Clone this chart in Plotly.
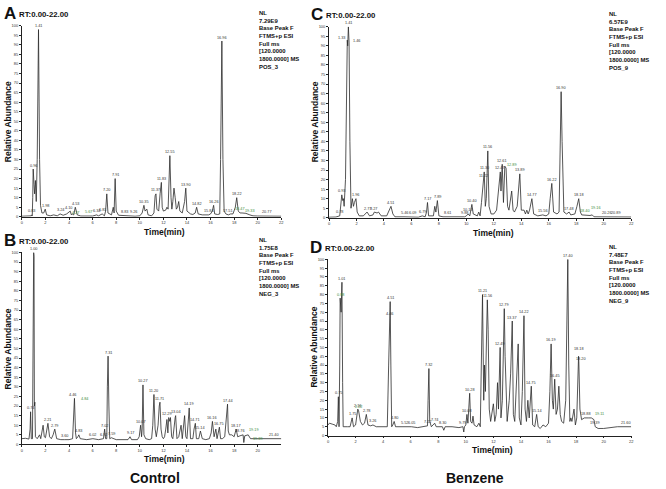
import plotly.graph_objects as go

W, H = 666, 489

# ---------------- Panel A (POS_3, Control) ----------------
A_time = [0, 0.8, 0.83, 0.88, 0.92, 0.96, 1.03, 1.08, 1.15, 1.22, 1.3, 1.41, 1.5, 1.58, 1.7, 1.85, 1.98, 2.1, 2.4, 2.7, 3.0, 3.24, 3.5, 3.8, 4.10, 4.2, 4.27, 4.4, 4.53, 4.7, 5.0, 5.67, 6.0, 6.34, 6.5, 6.81, 7.0, 7.1, 7.20, 7.3, 7.6, 7.75, 7.82, 7.91, 8.0, 8.2, 8.83, 9.26, 9.6, 10.0, 10.2, 10.35, 10.45, 10.6, 10.7, 11.0, 11.2, 11.3, 11.37, 11.45, 11.6, 11.72, 11.83, 11.9, 12.0, 12.2, 12.3, 12.4, 12.45, 12.55, 12.65, 12.72, 12.8, 12.9, 13.0, 13.1, 13.2, 13.3, 13.4, 13.6, 13.8, 13.90, 14.0, 14.3, 14.5, 14.7, 14.82, 14.95, 15.3, 15.84, 16.0, 16.15, 16.26, 16.35, 16.6, 16.78, 16.85, 16.96, 17.05, 17.15, 17.3, 17.51, 17.7, 17.9, 18.1, 18.22, 18.35, 18.5, 18.67, 19.0, 19.33, 19.6, 20.0, 20.77, 21.5, 22]
A_abund = [0.3, 0.5, 1, 0.5, 10, 25, 17, 12, 19, 8, 30, 98, 30, 6, 2, 2, 4, 1, 0.5, 1, 0.5, 1.5, 0.8, 1.5, 3, 1, 1.5, 1, 5, 1, 0.4, 0.5, 0.4, 1, 0.5, 1.5, 0.5, 3, 12, 2, 1, 5, 2, 20, 3, 0.8, 0.5, 0.5, 0.3, 0.5, 2, 6, 3, 4, 1, 0.5, 2, 11, 12, 4, 3, 12, 18, 5, 3, 3.5, 5, 4, 15, 32, 10, 4, 8, 15, 10, 4, 5, 8, 3, 2, 8, 15, 3, 1.5, 1.2, 2, 5, 1.5, 1, 1, 1.5, 3, 6, 1.5, 1.2, 1.5, 30, 92, 30, 3, 1.5, 1, 1.5, 1.5, 5, 10, 3, 2, 2, 1.8, 1, 0.5, 0.4, 0.5, 0.3, 0.3]
A_lbl_rt = [0.83, 0.96, 1.41, 1.98, 3.24, 4.10, 4.27, 4.53, 5.67, 6.34, 6.81, 7.20, 7.91, 8.83, 9.26, 10.35, 11.37, 11.83, 12.55, 13.90, 14.82, 15.84, 16.26, 16.96, 17.51, 18.22, 18.47, 19.33, 20.77]
A_lbl_ab = [1, 25, 98, 4, 1.5, 3, 1.5, 5, 0.5, 1, 1.5, 12, 20, 0.5, 0.5, 6, 12, 18, 32, 15, 5, 1, 6, 92, 1, 10, 2, 1, 0.5]
A_lbl_txt = ["0.83", "0.96", "1.41", "1.98", "3.24", "4.10", "4.27", "4.53", "5.67", "6.34", "6.81", "7.20", "7.91", "8.83", "9.26", "10.35", "11.37", "11.83", "12.55", "13.90", "14.82", "15.84", "16.26", "16.96", "17.51", "18.22", "18.47", "19.33", "20.77"]
A_lbl_green = ["4.27", "5.67", "18.47", "19.33"]

# ---------------- Panel B (NEG_3, Control) ----------------
B_time = [0, 0.3, 0.6, 0.7, 0.74, 0.8, 0.9, 0.95, 0.97, 1.00, 1.03, 1.06, 1.1, 1.15, 1.3, 1.5, 1.6, 1.8, 1.9, 2.0, 2.1, 2.21, 2.35, 2.5, 2.65, 2.79, 2.95, 3.3, 3.60, 4.0, 4.3, 4.4, 4.46, 4.55, 4.62, 4.75, 4.83, 4.95, 5.5, 6.02, 6.5, 6.92, 7.02, 7.1, 7.2, 7.25, 7.31, 7.38, 7.45, 7.59, 8.0, 9.0, 9.17, 9.3, 9.8, 9.95, 10.07, 10.15, 10.2, 10.27, 10.35, 10.5, 10.8, 11.0, 11.1, 11.20, 11.3, 11.4, 11.55, 11.65, 11.71, 11.8, 11.9, 12.0, 12.1, 12.2, 12.3, 12.38, 12.45, 12.55, 12.6, 12.7, 12.8, 13.0, 13.04, 13.15, 13.3, 13.5, 13.6, 13.8, 13.9, 14.0, 14.1, 14.19, 14.3, 14.5, 14.6, 14.71, 14.8, 15.0, 15.14, 15.3, 15.6, 15.9, 16.05, 16.16, 16.3, 16.45, 16.55, 16.75, 16.85, 17.0, 17.2, 17.35, 17.44, 17.5, 17.6, 17.8, 18.0, 18.17, 18.3, 18.5, 18.76, 18.82, 18.9, 19.19, 19.39, 19.6, 20.0, 21.0, 21.40, 22]
B_abund = [3, 3.2, 2.8, 8, 17, 3, 3, 80, 100, 100, 98, 20, 22, 4, 3, 5, 3, 10, 4, 3.5, 8, 11, 4, 3, 5, 8, 3, 2.5, 2.5, 2.5, 3, 15, 24, 6, 3, 4, 5, 3, 2.5, 3, 2.5, 3, 8, 3, 3, 30, 46, 20, 3, 3.5, 2.5, 2.5, 4, 2.5, 2.5, 4, 10, 4, 8, 31, 5, 3, 2.5, 3, 10, 26, 8, 4, 10, 20, 22, 8, 4, 3, 4, 8, 13, 6, 14, 12, 14, 4, 3, 14, 15, 3, 4, 10, 3, 15, 4, 3, 12, 19, 3, 3, 8, 11, 3, 3, 7, 3, 2.5, 3, 6, 12, 4, 8, 3, 9, 3, 3, 4, 14, 21, 7, 5, 5, 4, 8, 4, 4.5, 5, 1, 4.5, 5, 3, 3, 3, 3, 3, 3]
B_lbl_rt = [0.74, 1.00, 2.21, 2.79, 3.60, 4.46, 4.84, 4.83, 6.02, 6.92, 7.02, 7.31, 7.59, 9.17, 10.07, 10.27, 11.20, 11.71, 12.29, 13.04, 14.19, 14.71, 15.14, 16.16, 16.75, 17.44, 18.17, 18.76, 19.19, 19.39, 21.40]
B_lbl_ab = [17, 100, 11, 8, 2.5, 24, 23, 5, 3, 3, 8, 46, 3.5, 4, 10, 31, 26, 22, 14, 15, 19, 11, 7, 12, 9, 21, 8, 5, 5, 3, 3]
B_lbl_txt = ["0.74", "1.00", "2.21", "2.79", "3.60", "4.46", "4.84", "4.83", "6.02", "6.92", "7.02", "7.31", "7.59", "9.17", "10.07", "10.27", "11.20", "11.71", "12.29", "13.04", "14.19", "14.71", "15.14", "16.16", "16.75", "17.44", "18.17", "18.76", "19.19", "19.39", "21.40"]
B_lbl_green = ["4.84", "19.19", "19.39"]

# ---------------- Panel C (POS_9, Benzene) ----------------
C_time = [0, 0.5, 0.78, 0.85, 0.93, 1.0, 1.05, 1.1, 1.2, 1.33, 1.36, 1.41, 1.44, 1.46, 1.52, 1.6, 1.7, 1.78, 1.85, 1.96, 2.05, 2.2, 2.5, 2.77, 2.95, 3.2, 3.3, 3.5, 3.6, 3.8, 4.2, 4.4, 4.51, 4.65, 4.8, 5.46, 6.09, 6.5, 6.79, 7.0, 7.1, 7.17, 7.25, 7.6, 7.7, 7.78, 7.89, 8.0, 8.3, 8.61, 9.0, 9.88, 10.0, 10.13, 10.25, 10.35, 10.40, 10.5, 10.8, 10.9, 11.0, 11.1, 11.22, 11.30, 11.38, 11.45, 11.56, 11.65, 11.8, 12.0, 12.2, 12.3, 12.47, 12.52, 12.61, 12.7, 12.8, 12.89, 13.0, 13.1, 13.3, 13.4, 13.5, 13.7, 13.89, 14.0, 14.2, 14.3, 14.4, 14.5, 14.6, 14.77, 14.9, 15.2, 15.56, 15.8, 16.0, 16.1, 16.22, 16.35, 16.6, 16.75, 16.83, 16.90, 16.97, 17.1, 17.3, 17.48, 17.6, 17.9, 18.05, 18.18, 18.3, 18.40, 19.0, 19.16, 19.3, 20.26, 20.89, 22]
C_abund = [0.3, 0.4, 1, 5, 12, 9, 10, 6, 20, 93, 90, 100, 95, 92, 40, 5, 10, 6, 8, 10, 3, 1, 1, 3, 1, 1.5, 3, 2.5, 3, 1, 1, 4, 6, 2, 0.5, 0.5, 0.5, 0.3, 1, 0.5, 3, 8, 1, 1, 6, 3, 9, 1, 0.5, 0.5, 0.4, 0.5, 1, 2, 1, 4, 7, 2, 1, 3, 1, 8, 20, 24, 6, 10, 35, 6, 2, 2, 4, 12, 24, 14, 28, 8, 27, 26, 6, 4, 14, 4, 3, 6, 23, 4, 4, 2, 4, 2, 4, 10, 2, 1, 1.5, 1, 2, 10, 18, 3, 2, 3, 40, 66, 40, 3, 2, 3, 1.5, 2, 6, 10, 3, 1.5, 1.2, 1.5, 0.5, 0.5, 0.5, 0.4]
C_lbl_rt = [0.78, 0.93, 1.33, 1.41, 1.46, 1.96, 2.77, 3.27, 4.51, 5.46, 6.09, 6.79, 7.17, 7.89, 8.61, 9.88, 10.13, 10.40, 11.22, 11.30, 11.56, 12.47, 12.61, 12.89, 13.89, 14.77, 15.56, 16.22, 16.90, 17.48, 18.18, 18.40, 19.16, 20.26, 20.89]
C_lbl_ab = [1, 12, 93, 100, 92, 10, 3, 3, 6, 0.5, 0.5, 1, 8, 9, 0.5, 0.5, 2, 7, 20, 24, 35, 24, 28, 26, 23, 10, 1.5, 18, 66, 3, 10, 1.5, 1.5, 0.5, 0.5]
C_lbl_txt = ["0.78", "0.93", "1.33", "1.41", "1.46", "1.96", "2.77", "3.27", "4.51", "5.46", "6.09", "6.79", "7.17", "7.89", "8.61", "9.88", "10.13", "10.40", "11.22", "11.30", "11.56", "12.47", "12.61", "12.89", "13.89", "14.77", "15.56", "16.22", "16.90", "17.48", "18.18", "18.40", "19.16", "20.26", "20.89"]
C_lbl_green = ["12.89", "18.40", "19.16"]

# ---------------- Panel D (NEG_9, Benzene) ----------------
D_time = [0, 0.1, 0.3, 0.5, 0.6, 0.7, 0.75, 0.8, 0.85, 0.88, 0.95, 1.01, 1.06, 1.1, 1.4, 1.6, 1.75, 1.85, 2.0, 2.16, 2.22, 2.35, 2.5, 2.65, 2.78, 2.9, 3.1, 3.26, 3.5, 4.0, 4.3, 4.4, 4.46, 4.51, 4.56, 4.62, 4.7, 4.80, 4.9, 5.52, 6.05, 6.5, 7.0, 7.22, 7.26, 7.32, 7.38, 7.5, 7.74, 7.85, 8.30, 8.4, 8.5, 9.0, 9.5, 9.79, 9.85, 9.9, 10.0, 10.08, 10.15, 10.22, 10.28, 10.35, 10.45, 10.52, 10.6, 10.8, 10.95, 11.05, 11.15, 11.21, 11.3, 11.35, 11.42, 11.5, 11.56, 11.62, 11.7, 11.8, 11.9, 12.0, 12.1, 12.2, 12.3, 12.37, 12.49, 12.55, 12.65, 12.72, 12.79, 12.85, 12.95, 13.0, 13.15, 13.25, 13.37, 13.45, 13.55, 13.7, 13.8, 13.88, 14.0, 14.1, 14.22, 14.3, 14.4, 14.5, 14.6, 14.75, 14.85, 15.0, 15.14, 15.25, 15.4, 15.6, 15.8, 16.0, 16.1, 16.19, 16.28, 16.35, 16.45, 16.55, 16.65, 16.75, 16.85, 16.95, 17.1, 17.25, 17.33, 17.40, 17.47, 17.55, 17.62, 17.7, 17.85, 17.95, 18.05, 18.12, 18.18, 18.20, 18.28, 18.4, 18.6, 18.88, 19.11, 19.3, 19.39, 19.6, 20.0, 21.0, 21.60, 22]
D_abund = [6, 7, 6.5, 6, 5, 8, 22, 5, 40, 78, 70, 87, 30, 5, 5, 5, 10, 5, 6, 15, 14, 8, 6, 7, 12, 6, 5.5, 6, 5, 5, 5, 40, 67, 76, 40, 5, 6, 8, 5, 5, 5, 4.5, 5, 5.5, 20, 38, 8, 5, 7, 5, 5, 3, 5, 5, 4.5, 5, 2, 5, 6, 12, 7, 15, 24, 8, 7, 11, 6, 5, 7, 5, 40, 80, 20, 40, 25, 50, 77, 60, 15, 8, 12, 18, 8, 12, 30, 15, 50, 10, 20, 60, 72, 45, 15, 8, 20, 35, 65, 12, 8, 30, 52, 10, 6, 25, 68, 15, 8, 20, 10, 28, 6, 5, 12, 5, 4, 6, 5, 7, 25, 52, 20, 15, 32, 12, 15, 28, 12, 8, 7, 20, 60, 100, 40, 8, 10, 8, 15, 6, 10, 40, 45, 42, 15, 9, 10, 10, 10, 9, 5, 4, 4, 5, 5, 5]
D_lbl_rt = [0.75, 0.88, 1.01, 1.75, 2.16, 2.22, 2.78, 3.26, 4.46, 4.51, 4.80, 5.52, 6.05, 7.22, 7.32, 7.74, 8.30, 9.79, 10.08, 10.28, 11.21, 11.56, 12.49, 12.79, 13.37, 14.22, 14.75, 15.14, 16.19, 16.45, 17.40, 18.18, 18.20, 18.88, 19.11, 19.39, 21.60]
D_lbl_ab = [22, 78, 87, 10, 15, 14, 12, 6, 67, 76, 8, 5, 5, 5.5, 38, 7, 5, 5, 12, 24, 80, 77, 50, 72, 65, 68, 28, 12, 52, 32, 100, 45, 42, 10, 10, 5, 5]
D_lbl_txt = ["0.75", "0.88", "1.01", "1.75", "2.16", "2.22", "2.78", "3.26", "4.46", "4.51", "4.80", "5.52", "6.05", "7.22", "7.32", "7.74", "8.30", "9.79", "10.08", "10.28", "11.21", "11.56", "12.49", "12.79", "13.37", "14.22", "14.75", "15.14", "16.19", "16.45", "17.40", "18.18", "18.20", "18.88", "19.11", "19.39", "21.60"]
D_lbl_green = ["0.88", "2.22", "19.11"]

x_ticks = [0, 2, 4, 6, 8, 10, 12, 14, 16, 18, 20, 22]
y_ticks = list(range(0, 101, 5))

info_texts = [
    ["NL", "7.29E9", "Base Peak F", "FTMS+p ESI", "Full ms", "[120.0000", "1800.0000] MS", "POS_3"],
    ["NL", "1.75E8", "Base Peak F", "FTMS+p ESI", "Full ms", "[120.0000", "1800.0000] MS", "NEG_3"],
    ["NL", "6.57E9", "Base Peak F", "FTMS+p ESI", "Full ms", "[120.0000", "1800.0000] MS", "POS_9"],
    ["NL", "7.48E7", "Base Peak F", "FTMS+p ESI", "Full ms", "[120.0000", "1800.0000] MS", "NEG_9"],
]
group_labels = ["Control", "Benzene"]

# ---------------- styling: pixel nudges for crowded peak labels ----------------
label_nudge = {
    ("A", "4.27"): (3, -3), ("A", "4.10"): (-2, 0),
    ("A", "8.83"): (-2, 0), ("A", "9.26"): (2, 0),
    ("B", "19.19"): (6, 1), ("B", "19.39"): (7, -4), ("B", "18.76"): (-3, 0),
    ("B", "4.84"): (6, -2), ("B", "4.46"): (-2, 0),
    ("D", "19.11"): (8, 0), ("D", "18.88"): (-2, 0),
    ("D", "18.18"): (0, 4), ("D", "18.20"): (2, -1),
    ("C", "12.89"): (6, 0), ("C", "18.40"): (3, 0), ("C", "19.16"): (4, 3),
    ("C", "1.33"): (-6, -1), ("C", "1.46"): (7, -2),
}

# ---------------- layout helpers (pixel geometry) ----------------
def px(x):
    return x / W

def py(y):
    return 1 - y / H

# (x_left, x_right, y_top(100), y_bottom(0)) in pixels
geom = {
    "A": (21, 282, 23, 216),
    "B": (21, 282, 252, 446),
    "C": (330, 634, 24, 217),
    "D": (329, 634, 259, 437),
}

FONT = "Liberation Sans Narrow, Liberation Sans, Arial"
LINE = "#2b2b2b"
GREEN = "#3c8c3c"

fig = go.Figure()
panels = [
    ("A", A_time, A_abund, A_lbl_rt, A_lbl_ab, A_lbl_txt, A_lbl_green, "", info_texts[0]),
    ("B", B_time, B_abund, B_lbl_rt, B_lbl_ab, B_lbl_txt, B_lbl_green, "2", info_texts[1]),
    ("C", C_time, C_abund, C_lbl_rt, C_lbl_ab, C_lbl_txt, C_lbl_green, "3", info_texts[2]),
    ("D", D_time, D_abund, D_lbl_rt, D_lbl_ab, D_lbl_txt, D_lbl_green, "4", info_texts[3]),
]

annotations = []
layout_axes = {}
for name, t, ab, lrt, lab, ltxt, lgreen, sfx, info in panels:
    xa = "x" + sfx
    ya = "y" + sfx
    fig.add_trace(go.Scatter(x=t, y=ab, mode="lines", xaxis=xa, yaxis=ya,
                             line=dict(color=LINE, width=0.8), cliponaxis=False,
                             hoverinfo="skip", showlegend=False))
    xl, xr, yt, yb = geom[name]
    axis_common = dict(showline=True, linecolor="#222", linewidth=0.8, ticks="outside",
                       ticklen=2, tickwidth=0.6, tickcolor="#222", showgrid=False,
                       zeroline=False, tickfont=dict(family=FONT, size=4, color="#333"))
    xt = x_ticks if name != "B" else x_ticks[:-1]
    layout_axes["xaxis" + sfx] = dict(domain=[px(xl), px(xr)], range=[0, 22], anchor=ya,
                                      tickvals=xt, ticktext=[str(v) for v in xt], **axis_common)
    layout_axes["yaxis" + sfx] = dict(domain=[py(yb), py(yt)], range=[0, 100], anchor=xa,
                                      tickvals=y_ticks, ticktext=[str(v) for v in y_ticks], **axis_common)
    for r, a, s in zip(lrt, lab, ltxt):
        dx, dy = label_nudge.get((name, s), (0, 0))
        annotations.append(dict(x=r, y=a, xref=xa, yref=ya, text=s, showarrow=False,
                                yanchor="bottom", yshift=0.5 + dy, xshift=dx, borderpad=0,
                                font=dict(family=FONT, size=3.8,
                                          color=GREEN if s in lgreen else "#333")))
    # panel letter & RT range
    annotations.append(dict(x=px(xl - 19), y=py(yt - 12), xref="paper", yref="paper",
                            text="<b>%s</b>" % name, showarrow=False, xanchor="left", yanchor="middle",
                            borderpad=0, font=dict(family="Liberation Sans, Arial", size=17, color="#111")))
    annotations.append(dict(x=px(xl - 4), y=py(yt - 11), xref="paper", yref="paper",
                            text="<b>RT:0.00-22.00</b>", showarrow=False, xanchor="left", yanchor="middle",
                            borderpad=0, font=dict(family=FONT, size=7.8, color="#111")))
    # info block
    annotations.append(dict(x=px(xr - 23), y=py(yt - 17), xref="paper", yref="paper",
                            text="<b>" + "<br>".join(info) + "</b>", showarrow=False,
                            xanchor="left", yanchor="top", align="left", borderpad=0,
                            font=dict(family=FONT, size=5.9, color="#111")))
    # axis titles
    annotations.append(dict(x=px(xl - 14), y=py((yt + yb) / 2), xref="paper", yref="paper",
                            text="<b>Relative Abundance</b>", showarrow=False, textangle=-90,
                            xanchor="center", yanchor="middle", borderpad=0,
                            font=dict(family=FONT, size=8.5, color="#111")))
    annotations.append(dict(x=px((xl + xr) / 2 + 13), y=py(yb + 15), xref="paper", yref="paper",
                            text="<b>Time(min)</b>", showarrow=False, xanchor="center", yanchor="middle",
                            borderpad=0, font=dict(family=FONT, size=8.5, color="#111")))

annotations.append(dict(x=px(155), y=py(480), xref="paper", yref="paper", text="<b>" + group_labels[0] + "</b>",
                        xanchor="center", yanchor="middle", showarrow=False,
                        font=dict(family="Liberation Sans, Arial", size=14, color="#111")))
annotations.append(dict(x=px(477), y=py(480), xref="paper", yref="paper", text="<b>" + group_labels[1] + "</b>",
                        xanchor="center", yanchor="middle", showarrow=False,
                        font=dict(family="Liberation Sans, Arial", size=14, color="#111")))

fig.update_layout(width=W, height=H, margin=dict(l=0, r=0, t=0, b=0),
                  paper_bgcolor="white", plot_bgcolor="white",
                  annotations=annotations, **layout_axes)

fig.write_html("out.html", config={"displayModeBar": False},
               post_script="document.body.style.margin='0';document.body.style.overflow='hidden';")
